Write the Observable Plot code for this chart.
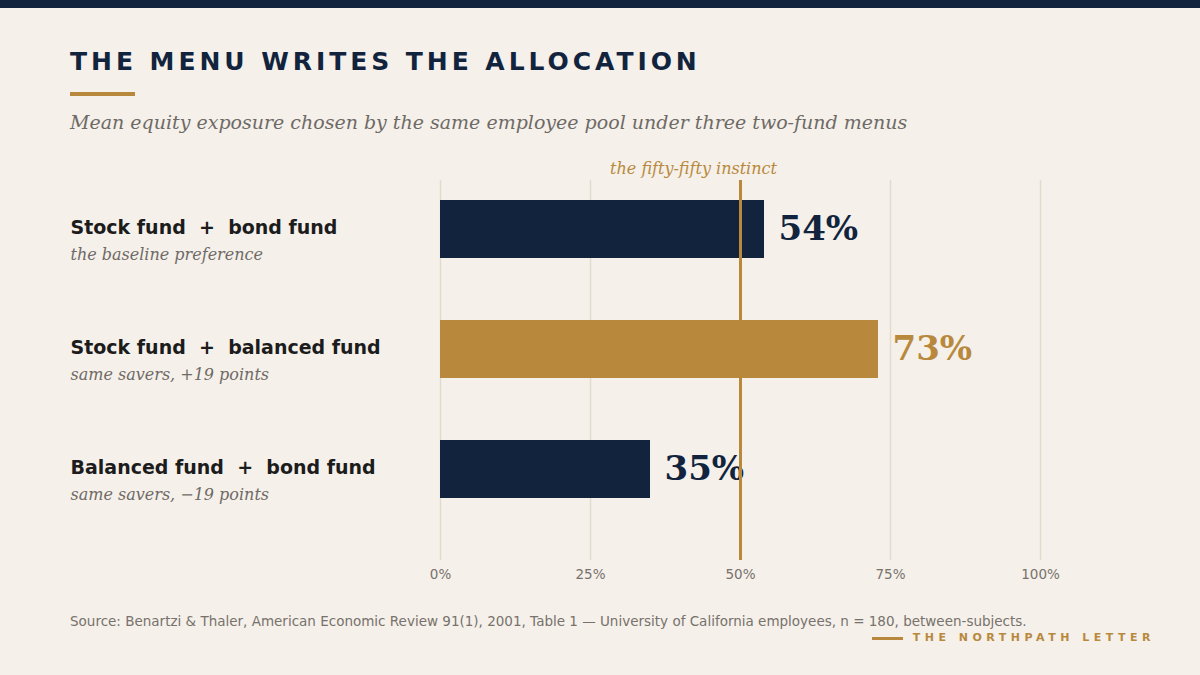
<!DOCTYPE html>
<html>
<head>
<meta charset="utf-8">
<script src="https://cdn.jsdelivr.net/npm/d3@7"></script>
<script src="https://cdn.jsdelivr.net/npm/@observablehq/plot@0.6"></script>
<style>
  html, body { margin: 0; padding: 0; }
  body { width: 1200px; height: 675px; overflow: hidden; position: relative; background: #f5f0ea; font-family: "DejaVu Sans", sans-serif; }
  .topbar { position: absolute; left: 0; top: 0; width: 1200px; height: 8px; background: #12243d; }
  .title { position: absolute; left: 70px; top: 49px; font: bold 25px/26px "DejaVu Sans", sans-serif; letter-spacing: 3.95px; color: #12243d; white-space: nowrap; }
  .rule { position: absolute; left: 70px; top: 92px; width: 65px; height: 4px; background: #b8893d; }
  .subtitle { position: absolute; left: 70px; top: 111px; font: italic 19px/22px "DejaVu Serif", serif; color: #6e6a66; white-space: nowrap; }
  #chart { position: absolute; left: 0; top: 150px; }
  #chart svg text { white-space: pre; }
  .source { position: absolute; left: 70px; top: 613px; font: 13.5px/16px "DejaVu Sans", sans-serif; color: #77726c; white-space: nowrap; }
  .brand { position: absolute; right: 45px; top: 631px; font: bold 11px/14px "DejaVu Sans", sans-serif; letter-spacing: 4.5px; color: #b8893d; white-space: nowrap; display: flex; align-items: center; }
  .brand .line { display: inline-block; width: 31px; height: 3px; background: #b8893d; margin-right: 10px; }
</style>
</head>
<body>
<div class="topbar"></div>
<div class="title">THE MENU WRITES THE ALLOCATION</div>
<div class="rule"></div>
<div class="subtitle">Mean equity exposure chosen by the same employee pool under three two-fund menus</div>
<div id="chart"></div>
<div class="source">Source: Benartzi &amp; Thaler, American Economic Review 91(1), 2001, Table 1 — University of California employees, n = 180, between-subjects.</div>
<div class="brand"><span class="line"></span>THE NORTHPATH LETTER</div>
<script>
const categories = ["Stock fund  +  bond fund", "Stock fund  +  balanced fund", "Balanced fund  +  bond fund"];
const notes = ["the baseline preference", "same savers, +19 points", "same savers, \u221219 points"];
const values = [54, 73, 35];
const highlighted = [false, true, false];
const ticks = [0, 25, 50, 75, 100];
const gridTicks = [0, 25, 75, 100];
const referenceValue = 50;
const referenceLabel = "the fifty-fifty instinct";

const NAVY = "#12243d", GOLD = "#b8893d", GRAY = "#6e6a66", GRID = "#e2dacd";

const rows = categories.map((c, i) => ({category: c, note: notes[i], value: values[i], hi: highlighted[i]}));

const chart = Plot.plot({
  width: 1200,
  height: 450,
  marginLeft: 440,
  marginRight: 160,
  marginTop: 30,
  marginBottom: 40,
  style: {background: "transparent", color: "#77726c", fontFamily: "DejaVu Sans, sans-serif", overflow: "visible"},
  x: {domain: [0, 100]},
  y: {type: "band", domain: categories, range: [50, 348], paddingInner: 0.517, paddingOuter: 0, axis: null},
  marks: [
    Plot.ruleX(gridTicks, {stroke: GRID, strokeWidth: 1.5}),
    Plot.ruleX([referenceValue], {stroke: GRID, strokeWidth: 1.5}),
    Plot.barX(rows, {x: "value", y: "category", fill: d => d.hi ? GOLD : NAVY}),
    Plot.text(rows, {x: "value", y: "category", text: d => d.value + "%", textAnchor: "start", dx: 14, dy: 0,
      fill: d => d.hi ? GOLD : NAVY, fontSize: 34, fontWeight: "bold", fontFamily: "DejaVu Serif, serif", lineAnchor: "middle"}),
    Plot.text(rows, {y: "category", text: "category", frameAnchor: "left", dx: -370, dy: -2, textAnchor: "start",
      fill: "#1c1c1c", fontSize: 19, fontWeight: "bold", fontFamily: "DejaVu Sans, sans-serif", lineAnchor: "middle"}),
    Plot.text(rows, {y: "category", text: "note", frameAnchor: "left", dx: -370, dy: 25, textAnchor: "start",
      fill: GRAY, fontSize: 16, fontStyle: "italic", fontFamily: "DejaVu Serif, serif", lineAnchor: "middle"}),
    Plot.ruleX([referenceValue], {stroke: GOLD, strokeWidth: 3}),
    Plot.text([referenceLabel], {x: referenceValue, frameAnchor: "top", text: d => d, dx: -47, dy: -12, textAnchor: "middle",
      fill: GOLD, fontSize: 16, fontStyle: "italic", fontFamily: "DejaVu Serif, serif", lineAnchor: "middle"}),
    Plot.axisX({ticks: ticks, tickFormat: d => d + "%", tickSize: 0, tickPadding: 9, fontSize: 13.5, label: null, fill: "#77726c"})
  ]
});
document.getElementById("chart").appendChild(chart);
</script>
</body>
</html>
